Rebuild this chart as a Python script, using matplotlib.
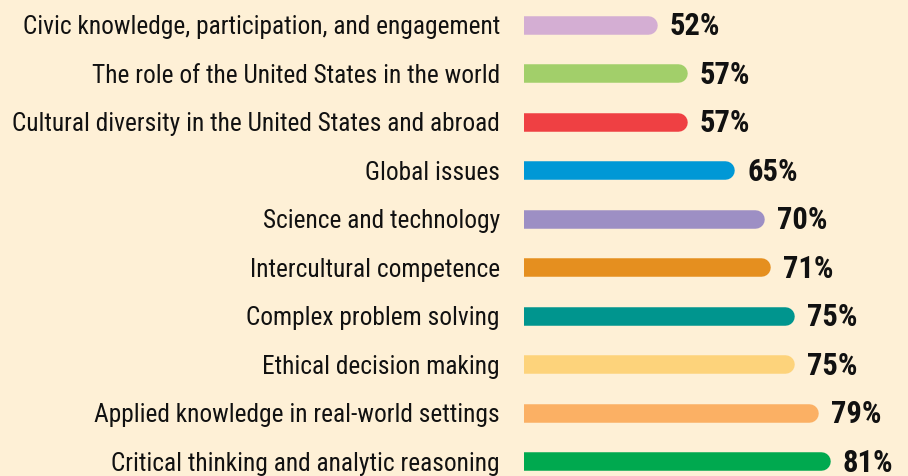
import matplotlib
matplotlib.use("Agg")
import matplotlib.pyplot as plt
from matplotlib import font_manager as fm

categories = [
    "Civic knowledge, participation, and engagement",
    "The role of the United States in the world",
    "Cultural diversity in the United States and abroad",
    "Global issues",
    "Science and technology",
    "Intercultural competence",
    "Complex problem solving",
    "Ethical decision making",
    "Applied knowledge in real-world settings",
    "Critical thinking and analytic reasoning",
]
values = [52, 57, 57, 65, 70, 71, 75, 75, 79, 81]
colors = ["#D4AED3", "#A2CF6A", "#EF4043", "#0098D6", "#9D8FC4",
          "#E58F1F", "#00958E", "#FDD37B", "#FBB064", "#00A94F"]

BG = "#FEF0D6"

# pick a condensed face if one is installed
names = {f.name for f in fm.fontManager.ttflist}
stretch = 'normal'
family = 'DejaVu Sans'
for cand in ['Roboto Condensed', 'Open Sans Condensed', 'Liberation Sans Narrow',
             'Noto Sans Condensed', 'DejaVu Sans Condensed']:
    if cand in names:
        family = cand
        break
else:
    if any('Condensed' in f.fname and 'DejaVuSans' in f.fname for f in fm.fontManager.ttflist):
        stretch = 'condensed'
plt.rcParams['font.family'] = [family, 'DejaVu Sans']

W, H, DPI = 908, 476, 100
fig = plt.figure(figsize=(W / DPI, H / DPI), dpi=DPI, facecolor=BG)
ax = fig.add_axes([524 / W, 0, 1 - 524 / W, 1])
ax.set_facecolor(BG)

x0, px_per = 29.7, 5.97
ax.set_xlim(x0, x0 + (W - 524) / px_per)
ax.set_ylim(len(values) - 1 + 0.30, -0.51)

bar_px = 18.5
lw_pt = bar_px * 72 / DPI
r = (bar_px / 2) / px_per

renderer = fig.canvas.get_renderer()

def fit_size(s, base, target_px, weight='normal'):
    t = fig.text(0, 0, s, fontsize=base, fontweight=weight, fontstretch=stretch)
    w = t.get_window_extent(renderer).width
    t.remove()
    return base * min(1.0, target_px / w)

lab_size = fit_size(categories[2], 22, 488)
pct_size = fit_size("81%", 22, 53, 'bold')

for i, (v, c) in enumerate(zip(values, colors)):
    ax.plot([0, v - r], [i, i], color=c, lw=lw_pt, solid_capstyle='round')
    ax.annotate(f"{v}%", xy=(v, i), xytext=(9, -1), textcoords='offset points',
                va='center', ha='left', fontsize=pct_size, fontweight='bold',
                fontstretch=stretch, color='#111111')

ax.set_yticks(range(len(categories)))
ax.set_yticklabels(categories, fontsize=lab_size, color='#111111', fontstretch=stretch)
ax.tick_params(axis='y', length=0, pad=24 * 72 / DPI)
ax.set_xticks([])
for s in ax.spines.values():
    s.set_visible(False)

fig.savefig("out.png", dpi=DPI, facecolor=BG)
